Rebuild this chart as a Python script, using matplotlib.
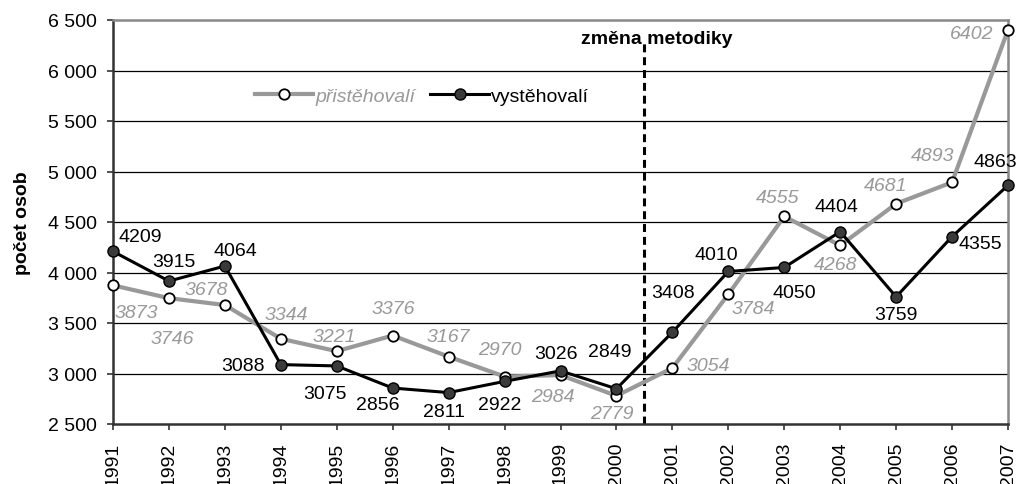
import matplotlib
matplotlib.use("Agg")
import matplotlib.pyplot as plt
from matplotlib.lines import Line2D

plt.rcParams['font.family'] = ['Liberation Sans', 'DejaVu Sans']

years = list(range(1991, 2008))
prist = [3873, 3746, 3678, 3344, 3221, 3376, 3167, 2970, 2984, 2779,
         3054, 3784, 4555, 4268, 4681, 4893, 6402]
vyst = [4209, 3915, 4064, 3088, 3075, 2856, 2811, 2922, 3026, 2849,
        3408, 4010, 4050, 4404, 3759, 4355, 4863]
yticks = [2500, 3000, 3500, 4000, 4500, 5000, 5500, 6000, 6500]
ytick_labels = ["2 500", "3 000", "3 500", "4 000", "4 500", "5 000", "5 500", "6 000", "6 500"]
series_names = ["přistěhovalí", "vystěhovalí"]
annot_text = "změna metodiky"
ylabel = "počet osob"

# label offsets in pixels (x, y up)
prist_off = [(23, -27), (3, -40), (-19, 16), (5, 24), (-2, 15), (1, 27), (0, 20),
             (-5, 27), (-8, -21), (-5, -18), (36, 3), (25, -14), (-7, 19),
             (-5, -19), (-10, 18), (-19, 27), (-36, -4)]
vyst_off = [(27, 15), (5, 20), (10, 16), (-38, -1), (-12, -28), (-15, -16), (-5, -19),
            (-5, -23), (-5, 17), (-7, 37), (1, 40), (-12, 17), (10, -25),
            (-4, 25), (0, -18), (28, -7), (-13, 24)]

GREY = '#999999'
fig = plt.figure(figsize=(10.2, 4.85), dpi=100)
ax = fig.add_axes([113/1020, 1-425/485, 895/1020, 404/485])

ax.set_xlim(1991, 2007)
ax.set_ylim(2500, 6500)
ax.set_yticks(yticks)
ax.set_yticklabels(ytick_labels)
ax.set_xticks(years)
ax.set_xticklabels([str(y) for y in years], rotation=90)
ax.tick_params(axis='both', labelsize=14, direction='out', length=4.5, width=1.2, color='#333333')
ax.tick_params(axis='y', pad=7)
ax.tick_params(axis='x', pad=8)

for v in yticks[1:-1]:
    ax.axhline(v, color='black', lw=0.9, zorder=1)

for s in ['top', 'right']:
    ax.spines[s].set_color('#888888')
    ax.spines[s].set_linewidth(1.8)
for s in ['left', 'bottom']:
    ax.spines[s].set_color('#333333')
    ax.spines[s].set_linewidth(1.8)

ax.plot(years, prist, color=GREY, lw=3, marker='o', ms=7.5, mfc='white',
        mec='black', mew=1.3, zorder=3, clip_on=False)
ax.plot(years, vyst, color='black', lw=2.2, marker='o', ms=8, mfc='#3a3a3a',
        mec='black', mew=1.0, zorder=4, clip_on=False)

for x, v, o in zip(years, prist, prist_off):
    ax.annotate(str(v), (x, v), xytext=o, textcoords='offset pixels',
                ha='center', va='center', fontsize=14, color=GREY, style='italic',
                zorder=5, annotation_clip=False)
for x, v, o in zip(years, vyst, vyst_off):
    ax.annotate(str(v), (x, v), xytext=o, textcoords='offset pixels',
                ha='center', va='center', fontsize=14, color='black',
                zorder=5, annotation_clip=False)

ax.plot([2000.5, 2000.5], [2500, 6292], color='black', lw=2.2,
        linestyle=(0, (2.6, 1.6)), zorder=2)
ax.text(2000.72, 6320, annot_text, ha='center', va='center', fontsize=14,
        fontweight='bold', zorder=6)

ax.set_ylabel(ylabel, fontsize=14, fontweight='bold', labelpad=12)

handles = [
    Line2D([], [], color=GREY, lw=3, marker='o', ms=7.5, mfc='white', mec='black', mew=1.3),
    Line2D([], [], color='black', lw=2.2, marker='o', ms=8, mfc='#3a3a3a', mec='black', mew=1.0),
]
leg = ax.legend(handles, series_names, loc='center', bbox_to_anchor=(0.345, 0.812),
                ncol=2, frameon=False, fontsize=14, handlelength=3.0,
                handletextpad=0.1, columnspacing=0.8)
leg.get_texts()[0].set_color(GREY)
leg.get_texts()[0].set_style('italic')

fig.savefig('out.png', dpi=100)
